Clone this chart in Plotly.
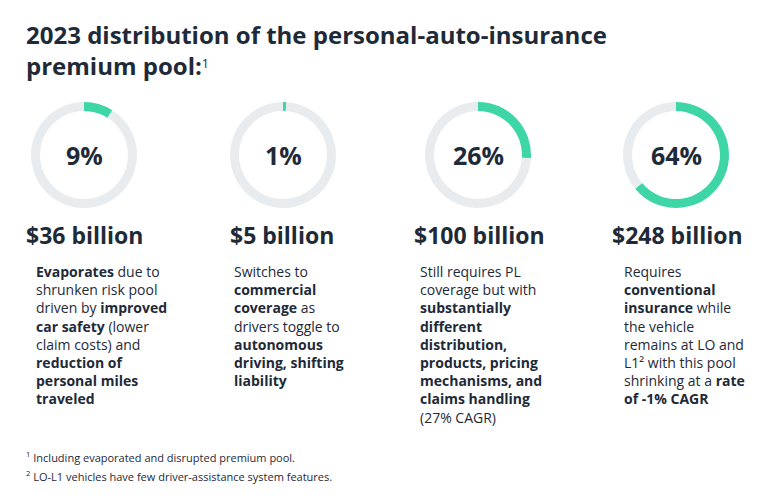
import plotly.graph_objects as go

W, H = 768, 503
shares = [9, 1, 26, 64]
amounts = ["$36 billion", "$5 billion", "$100 billion", "$248 billion"]
descs = [
    "<b>Evaporates</b> due to<br>shrunken risk pool<br>driven by <b>improved</b><br><b>car safety</b> (lower<br>claim costs) and<br><b>reduction of</b><br><b>personal miles</b><br><b>traveled</b>",
    "Switches to<br><b>commercial</b><br><b>coverage</b> as<br>drivers toggle to<br><b>autonomous</b><br><b>driving, shifting</b><br><b>liability</b>",
    "Still requires PL<br>coverage but with<br><b>substantially</b><br><b>different</b><br><b>distribution,</b><br><b>products, pricing</b><br><b>mechanisms, and</b><br><b>claims handling</b><br>(27% CAGR)",
    "Requires<br><b>conventional</b><br><b>insurance</b> while<br>the vehicle<br>remains at LO and<br>L1² with this pool<br>shrinking at a <b>rate</b><br><b>of -1% CAGR</b>",
]
OX, OY = 8, 8
centers = [84 - OX, 283 - OX, 478 - OX, 676 - OX]
amount_x = [24 - OX, 228 - OX, 412 - OX, 610 - OX]
desc_x = [34 - OX, 232 - OX, 418 - OX, 622 - OX]

DARK = "#1e2a38"
TEAL = "#3ed6a6"
GREY = "#e8ecef"
FONT = "Open Sans"

fig = go.Figure()
R, CY = 53, 155 - OY
for i, s in enumerate(shares):
    cx = centers[i]
    fig.add_trace(go.Pie(
        values=[s, 100 - s], marker=dict(colors=[TEAL, GREY]),
        hole=0.83, sort=False, direction="clockwise", rotation=0,
        textinfo="none", hoverinfo="none", showlegend=False,
        domain=dict(x=[(cx - R) / W, (cx + R) / W], y=[1 - (CY + R) / H, 1 - (CY - R) / H]),
    ))
    fig.add_annotation(x=cx / W, y=1 - CY / H, text=f"<b>{s}%</b>", showarrow=False,
                       font=dict(size=25, color=DARK, family=FONT), xanchor="center", yanchor="middle")
    fig.add_annotation(x=amount_x[i] / W, y=1 - (235 - OY) / H, text=f"<b>{amounts[i]}</b>", showarrow=False,
                       font=dict(size=23, color=DARK, family=FONT), xanchor="left", yanchor="middle")
    fig.add_annotation(x=desc_x[i] / W, y=1 - (260 - OY) / H, text=descs[i], showarrow=False, align="left",
                       font=dict(size=14, color=DARK, family=FONT), xanchor="left", yanchor="top")

fig.add_annotation(x=(24 - OX) / W, y=1 - (16 - OY) / H,
                   text="<b>2023 distribution of the personal-auto-insurance</b><br><b>premium pool:</b><span style='font-size:18px'><sup>1</sup></span>",
                   showarrow=False, align="left", xanchor="left", yanchor="top",
                   font=dict(size=24, color=DARK, family=FONT))
fig.add_annotation(x=(24 - OX) / W, y=1 - (447 - OY) / H, text="<sup>1</sup> Including evaporated and disrupted premium pool.",
                   showarrow=False, align="left", xanchor="left", yanchor="top", font=dict(size=11, color=DARK, family=FONT))
fig.add_annotation(x=(24 - OX) / W, y=1 - (466 - OY) / H, text="<sup>2</sup> LO-L1 vehicles have few driver-assistance system features.",
                   showarrow=False, align="left", xanchor="left", yanchor="top", font=dict(size=11, color=DARK, family=FONT))

fig.update_layout(width=W, height=H, margin=dict(l=0, r=0, t=0, b=0),
                  paper_bgcolor="white", plot_bgcolor="white")
fig.write_html("out.html")
